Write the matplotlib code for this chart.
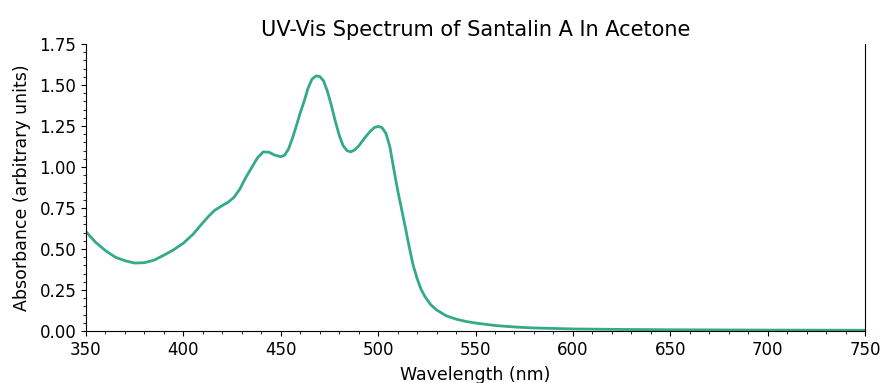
import numpy as np
import matplotlib.pyplot as plt
from matplotlib.ticker import MultipleLocator

# Spectrum values
wavelength = [350, 355, 360, 365, 370, 375, 380, 385, 390, 395, 400, 405, 410, 413,
              416, 420, 423, 426, 429, 432, 435, 438, 441, 444, 447, 450, 452, 454,
              456, 458, 460, 462, 464, 466, 468, 470, 472, 474, 476, 478, 480, 482,
              484, 486, 488, 490, 492, 494, 496, 498, 500, 502, 504, 506, 508, 510,
              512, 514, 516, 518, 520, 522, 524, 527, 530, 535, 540, 545, 550, 560,
              570, 580, 600, 625, 650, 700, 750]
absorbance = [0.605, 0.54, 0.49, 0.45, 0.428, 0.414, 0.416, 0.432, 0.462, 0.495,
              0.535, 0.59, 0.66, 0.70, 0.735, 0.765, 0.785, 0.815, 0.865, 0.935,
              0.995, 1.055, 1.092, 1.09, 1.072, 1.063, 1.072, 1.11, 1.175, 1.25,
              1.33, 1.40, 1.48, 1.535, 1.555, 1.553, 1.525, 1.46, 1.375, 1.28,
              1.195, 1.13, 1.10, 1.092, 1.105, 1.128, 1.16, 1.19, 1.218, 1.24,
              1.248, 1.24, 1.205, 1.125, 0.99, 0.86, 0.745, 0.63, 0.51, 0.40, 0.32,
              0.255, 0.21, 0.16, 0.128, 0.092, 0.072, 0.058, 0.048, 0.033, 0.024,
              0.018, 0.012, 0.009, 0.007, 0.005, 0.004]

fig = plt.figure(figsize=(8.8, 3.83), dpi=100)
ax = fig.add_axes([0.0977, 0.136, 0.8853, 0.749])

ax.plot(wavelength, absorbance, color='#33aa88', linewidth=2)

ax.set_xlim(350, 750)
ax.set_ylim(0, 1.75)
ax.xaxis.set_major_locator(MultipleLocator(50))
ax.xaxis.set_minor_locator(MultipleLocator(10))
ax.yaxis.set_major_locator(MultipleLocator(0.25))
ax.yaxis.set_minor_locator(MultipleLocator(0.05))
ax.tick_params(labelsize=12)

ax.spines['top'].set_visible(False)

ax.set_title("UV-Vis Spectrum of Santalin A In Acetone", fontsize=15)
ax.set_xlabel("Wavelength (nm)", fontsize=12.5, labelpad=5)
ax.set_ylabel("Absorbance (arbitrary units)", fontsize=12.5, labelpad=6)

fig.savefig("out.png", dpi=100)
